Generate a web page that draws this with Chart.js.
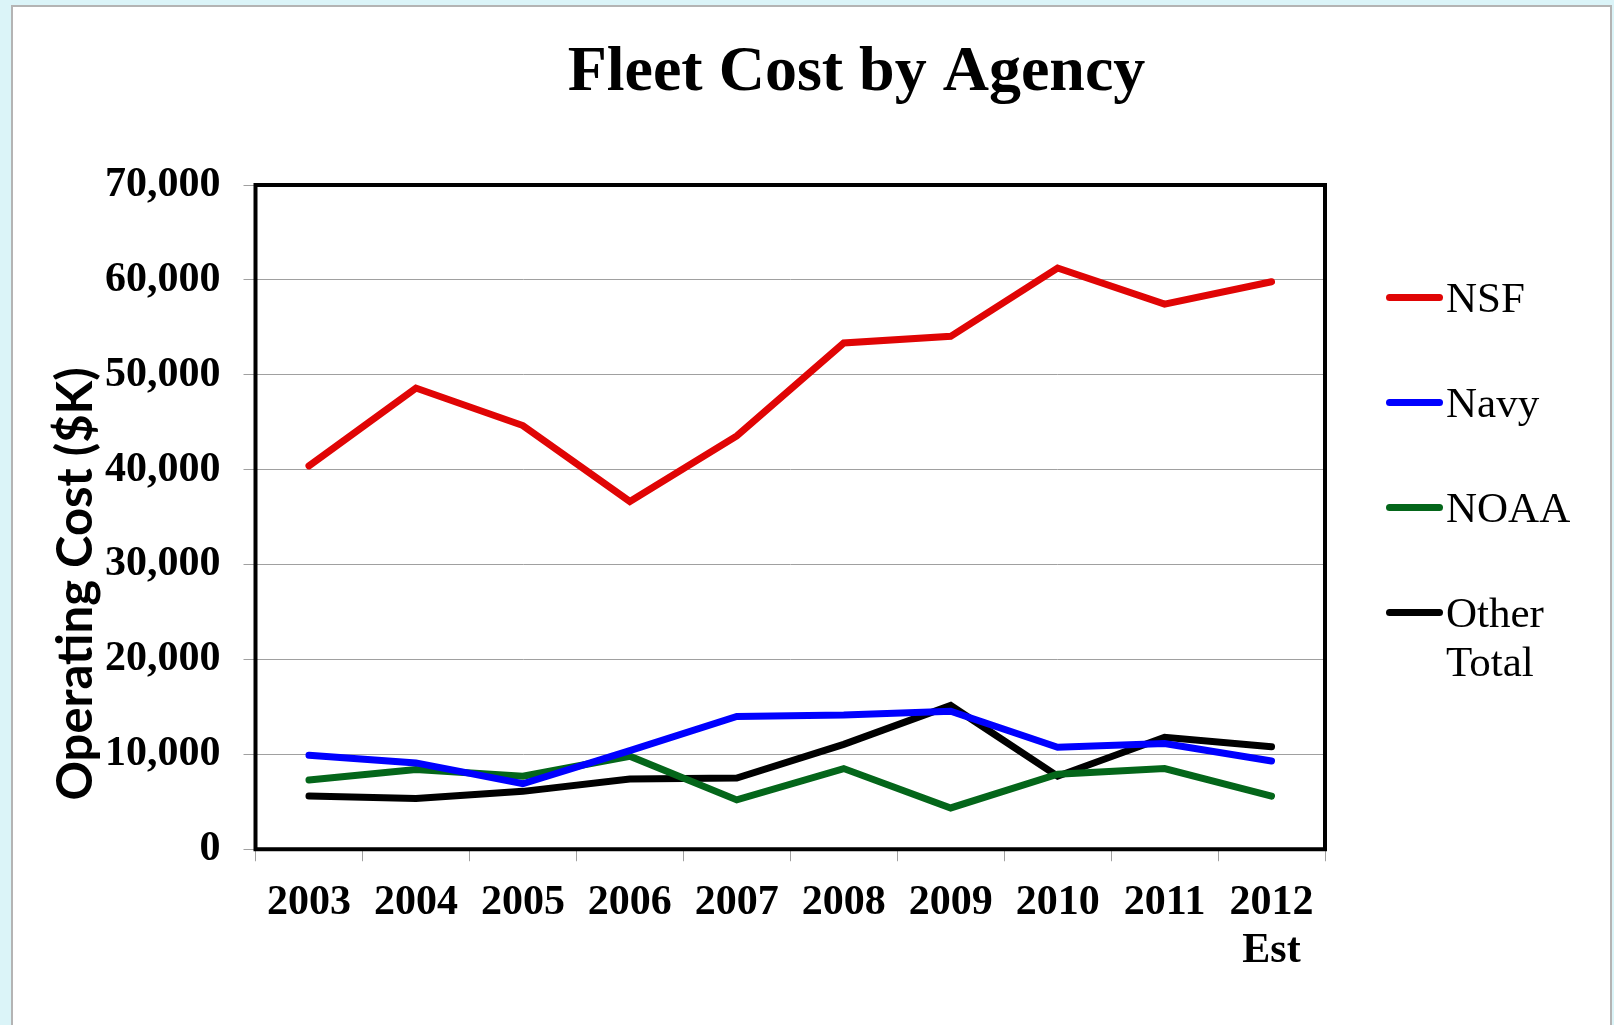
<!DOCTYPE html>
<html lang="en">
<head>
<meta charset="utf-8">
<title>Fleet Cost by Agency</title>
<script src="https://cdn.jsdelivr.net/npm/chart.js@4.4.1/dist/chart.umd.min.js"></script>
<style>
  html, body { margin: 0; padding: 0; }
  body { width: 1614px; height: 1025px; background: #dbf4f8; position: relative; overflow: hidden; }
  #panel { position: absolute; left: 11px; top: 5px; width: 1597px; height: 1030px; background: #fff; border: 2px solid #b4b4b4; }
  #chartBox { position: absolute; left: 0; top: 0; width: 1614px; height: 1025px; }
  #legend { position: absolute; left: 1386px; top: 273px; font-family: 'Liberation Serif', 'Times New Roman', serif; font-size: 43px; line-height: 49px; color: #000; }
  .legend-item { display: flex; align-items: flex-start; margin-bottom: 56px; }
  .legend-line { width: 57px; height: 7px; border-radius: 4px; margin-top: 21px; flex: none; }
  .legend-text { width: 150px; margin-left: 3px; }
</style>
</head>
<body>
<div id="panel"></div>
<div id="chartBox"><canvas id="fleetChart"></canvas></div>
<div id="legend"></div>

<script>
// === DATOS ===
const years = ['2003', '2004', '2005', '2006', '2007', '2008', '2009', '2010', '2011', ['2012', 'Est']];
const nsfCost   = [40400, 48600, 44650, 36650, 43550, 53350, 54050, 61250, 57450, 59800];
const navyCost  = [9900, 9100, 6900, 10400, 14000, 14150, 14550, 10750, 11150, 9300];
const noaaCost  = [7300, 8400, 7700, 9800, 5200, 8500, 4350, 7900, 8500, 5600];
const otherCost = [5600, 5350, 6100, 7400, 7500, 11050, 15150, 7700, 11800, 10800];
const seriesNames = ['NSF', 'Navy', 'NOAA', 'Other Total'];
const seriesColors = ['#e00505', '#0000ff', '#04661a', '#000000'];
const yTicks = [0, 10000, 20000, 30000, 40000, 50000, 60000, 70000];

const serif = "'Liberation Serif', 'Times New Roman', serif";

// Marco negro alrededor del area de trazado
const marcoPlot = {
    id: 'marcoPlot',
    afterDatasetsDraw(chart) {
        const a = chart.chartArea;
        const ctx = chart.ctx;
        ctx.save();
        ctx.strokeStyle = '#000';
        ctx.lineWidth = 4;
        ctx.strokeRect(a.left, a.top, a.right - a.left, a.bottom - a.top);
        ctx.restore();
    }
};

// Titulo general y titulo del eje Y (el original no los centra sobre el area)
const titulos = {
    id: 'titulos',
    afterDraw(chart) {
        const a = chart.chartArea;
        const ctx = chart.ctx;
        ctx.save();
        ctx.fillStyle = '#000';
        ctx.textAlign = 'center';

        ctx.font = "bold 64px " + serif;
        ctx.textBaseline = 'alphabetic';
        ctx.fillText('Fleet Cost by Agency', a.left + 601, a.top - 95);

        ctx.translate(a.left - 179, a.top + 399);
        ctx.rotate(-Math.PI / 2);
        ctx.font = "bold 49px Lato, 'Open Sans', sans-serif";
        ctx.textBaseline = 'middle';
        ctx.fillText('Operating Cost ($K)', 0, 0);
        ctx.restore();
    }
};

const valores = [nsfCost, navyCost, noaaCost, otherCost];
const datasets = seriesNames.map((name, i) => ({
    label: name,
    data: valores[i],
    borderColor: seriesColors[i],
    backgroundColor: seriesColors[i],
    borderWidth: 7,
    pointRadius: 0,
    tension: 0,
    borderCapStyle: 'round',
    borderJoinStyle: 'miter'
}));

const chart = new Chart(document.getElementById('fleetChart'), {
    type: 'line',
    data: { labels: years, datasets: datasets },
    options: {
        responsive: true,
        maintainAspectRatio: false,
        animation: false,
        layout: { padding: { top: 185, left: 82, right: 289, bottom: 32 } },
        plugins: {
            legend: { display: false },
            tooltip: { enabled: false },
            title: { display: false }
        },
        scales: {
            x: {
                offset: true,
                grid: { display: true, offset: true, drawOnChartArea: false, color: '#a0a0a0', tickLength: 12 },
                border: { display: false },
                ticks: {
                    color: '#000',
                    padding: 18,
                    maxRotation: 0,
                    autoSkip: false,
                    font: { family: serif, size: 42, weight: 'bold', lineHeight: 1.14 }
                }
            },
            y: {
                min: 0,
                max: 70000,
                afterBuildTicks: (axis) => { axis.ticks = yTicks.map(v => ({ value: v })); },
                grid: { color: '#a0a0a0', lineWidth: 1, tickLength: 12 },
                border: { display: false },
                ticks: {
                    color: '#000',
                    padding: 23,
                    font: { family: serif, size: 42, weight: 'bold' },
                    callback: (v) => v.toLocaleString('en-US')
                }
            }
        }
    },
    plugins: [marcoPlot, titulos]
});

// === LEYENDA (HTML, a partir de los datasets) ===
const leyenda = document.getElementById('legend');
chart.data.datasets.forEach(ds => {
    const item = document.createElement('div');
    item.className = 'legend-item';
    item.innerHTML = `
        <span class="legend-line" style="background:${ds.borderColor}"></span>
        <span class="legend-text">${ds.label}</span>
    `;
    leyenda.appendChild(item);
});
</script>
</body>
</html>
